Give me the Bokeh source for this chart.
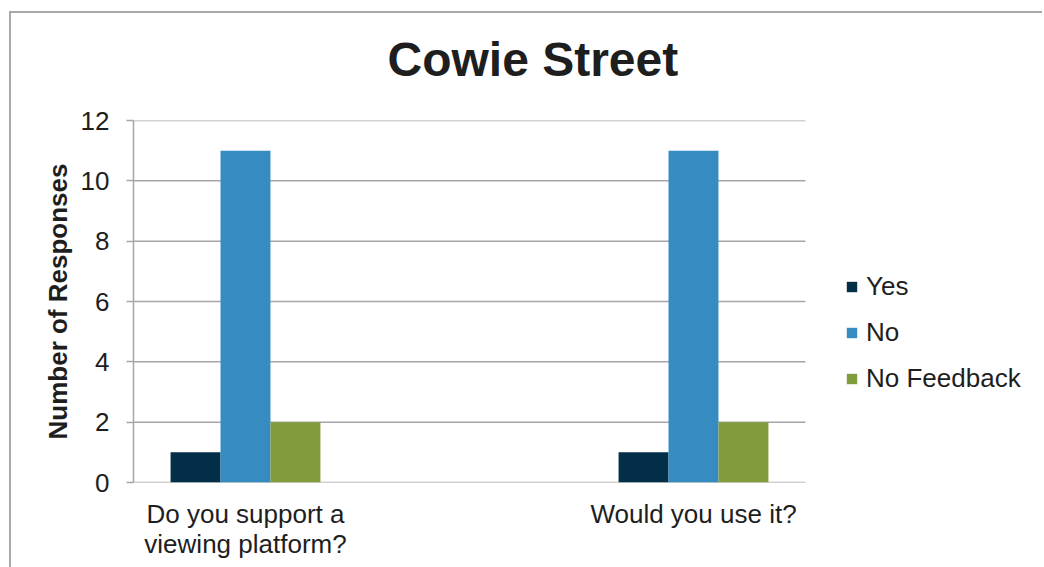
from bokeh.plotting import figure
from bokeh.models import ColumnDataSource, Legend, LegendItem, FixedTicker, Range1d, Title
from bokeh.embed import file_html
from bokeh.resources import INLINE

# ---- data ----
categories = ["Do you support a\nviewing platform?", "Would you use it?"]
series = ["Yes", "No", "No Feedback"]
yes = [1, 1]
no = [11, 11]
no_feedback = [2, 2]
y_ticks = [0, 2, 4, 6, 8, 10, 12]

colors = ["#022e48", "#368bc0", "#809c3c"]
FONT = "Liberation Sans"
TEXT = "#1e1e1e"
GRID = "#a6a6a6"

# plot area spans x in [-0.25, 1.25] over 672 px; the frame continues to the right
# (blank) so that the legend can sit beside the bars.
W, H = 1033, 556
ML = 122
x0, x1 = -0.25, 1.25
x_end = x0 + (W - ML) * (x1 - x0) / 672.0

p = figure(width=W, height=H, x_range=Range1d(x0, x_end), y_range=Range1d(0, 12),
           output_backend="svg", toolbar_location=None,
           min_border_left=ML, min_border_right=0, min_border_top=107, min_border_bottom=87)
p.styles = {"margin-left": "9px", "margin-top": "11px", "border": "2px solid #a9a9a9",
            "border-right": "none", "border-bottom": "none"}
p.outline_line_color = None
p.background_fill_color = "white"
p.border_fill_color = "white"

# horizontal grid lines limited to the plot area
p.segment(x0=[x0] * len(y_ticks), x1=[x1] * len(y_ticks), y0=y_ticks, y1=y_ticks,
          line_color=GRID, line_width=1.5)

bw = 0.1115
xs = list(range(len(categories)))
renderers = []
for i, (name, vals) in enumerate(zip(series, [yes, no, no_feedback])):
    src = ColumnDataSource(dict(x=[x + (i - 1) * bw for x in xs], top=vals))
    r = p.vbar(x="x", top="top", width=bw, source=src, fill_color=colors[i], line_color=None)
    renderers.append(r)

# spacer between the frame and the title
p.add_layout(Title(text=" ", text_font_size="10px", standoff=22), "above")

# title
p.title.text = "Cowie Street"
p.title.text_font = FONT
p.title.text_font_size = "48px"
p.title.text_font_style = "bold"
p.title.text_color = TEXT
p.title.align = "left"
p.title.offset = 254
p.title.standoff = 0

# y axis
p.yaxis.ticker = FixedTicker(ticks=y_ticks)
p.yaxis.axis_label = "Number of Responses"
p.yaxis.axis_label_text_font = FONT
p.yaxis.axis_label_text_font_size = "26px"
p.yaxis.axis_label_text_font_style = "bold"
p.yaxis.axis_label_text_color = TEXT
p.yaxis.axis_label_standoff = 5
p.yaxis.major_label_text_font = FONT
p.yaxis.major_label_text_font_size = "26px"
p.yaxis.major_label_text_color = TEXT
p.yaxis.major_label_standoff = 17
p.yaxis.axis_line_color = GRID
p.yaxis.axis_line_width = 1.5
p.yaxis.major_tick_line_color = GRID
p.yaxis.major_tick_line_width = 1.5
p.yaxis.major_tick_out = 7
p.yaxis.major_tick_in = 0
p.yaxis.minor_tick_line_color = None

# x axis
p.xaxis.ticker = FixedTicker(ticks=xs)
p.xaxis.bounds = (x0, x1)
p.xaxis.major_label_overrides = {x: c for x, c in zip(xs, categories)}
p.xaxis.major_label_text_font = FONT
p.xaxis.major_label_text_font_size = "26px"
p.xaxis.major_label_text_color = TEXT
p.xaxis.major_label_text_align = "center"
p.xaxis.major_label_text_line_height = 1.0
p.xaxis.major_label_standoff = 10
p.xaxis.axis_line_color = None
p.xaxis.major_tick_line_color = None
p.xaxis.minor_tick_line_color = None

p.xgrid.grid_line_color = None
p.ygrid.grid_line_color = None

legend = Legend(items=[LegendItem(label=s, renderers=[r]) for s, r in zip(series, renderers)],
                location=(712, 88))
legend.label_text_font = FONT
legend.label_text_font_size = "26px"
legend.label_text_color = TEXT
legend.label_height = 26
legend.glyph_width = 13
legend.glyph_height = 13
legend.label_standoff = 8
legend.spacing = 15
legend.padding = 0
legend.margin = 0
legend.border_line_color = None
legend.background_fill_alpha = 0
p.add_layout(legend)

open("out.html", "w").write(file_html(p, INLINE))
